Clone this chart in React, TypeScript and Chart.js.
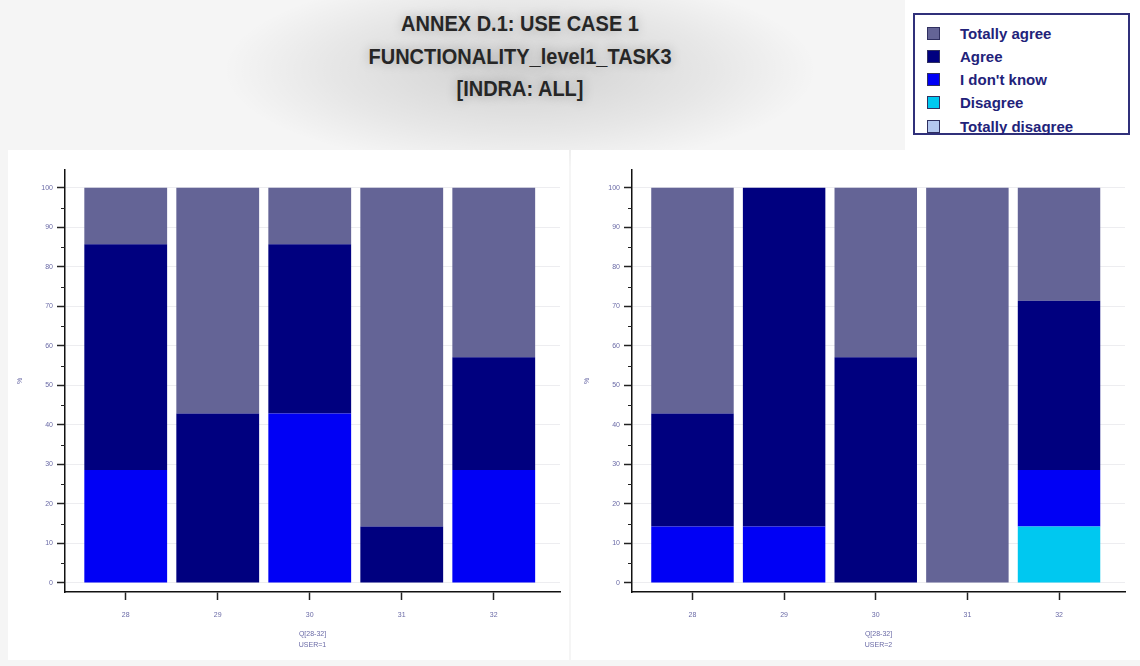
import React, { useEffect, useRef } from 'react';
import { Chart, registerables } from 'chart.js';

Chart.register(...registerables);

const FONT = '"Liberation Sans", Arial, Helvetica, sans-serif';

// ---- data ----
const categories = ['28', '29', '30', '31', '32'];
const xPositions = [1, 2, 3, 4, 5];
const yTicks = [0, 10, 20, 30, 40, 50, 60, 70, 80, 90, 100];
const seriesNames = ['Totally agree', 'Agree', "I don't know", 'Disagree', 'Totally disagree'];
const seriesColors = ['#646496', '#00007f', '#0000f5', '#00c8f0', '#b4c8f0'];

// USER=1
const user1TotallyAgree = [14.29, 57.14, 14.29, 85.71, 42.86];
const user1Agree = [57.14, 42.86, 42.86, 14.29, 28.57];
const user1DontKnow = [28.57, 0, 42.86, 0, 28.57];
const user1Disagree = [0, 0, 0, 0, 0];
const user1TotallyDisagree = [0, 0, 0, 0, 0];

// USER=2
const user2TotallyAgree = [57.14, 0, 42.86, 100, 28.57];
const user2Agree = [28.57, 85.71, 57.14, 0, 42.86];
const user2DontKnow = [14.29, 14.29, 0, 0, 14.29];
const user2Disagree = [0, 0, 0, 0, 14.29];
const user2TotallyDisagree = [0, 0, 0, 0, 0];

const titleLines = ['ANNEX D.1: USE CASE 1', 'FUNCTIONALITY_level1_TASK3', '[INDRA: ALL]'];
const xTitleFirst = 'Q[28-32]';

const TICK_COLOR = '#6a6aa6';

const minorTicks = {
  id: 'minorTicks',
  afterDraw(chart: any) {
    const y = chart.scales.y;
    const ctx = chart.ctx;
    ctx.save();
    ctx.strokeStyle = '#222';
    ctx.lineWidth = 1;
    for (let v = 5; v < 100; v += 10) {
      const py = Math.round(y.getPixelForValue(v)) + 0.5;
      ctx.beginPath();
      ctx.moveTo(y.right - 4, py);
      ctx.lineTo(y.right, py);
      ctx.stroke();
    }
    ctx.restore();
  },
};

function Panel(props: {
  values: number[][];
  userLabel: string;
  left: number;
  width: number;
  padRight: number;
}) {
  const ref = useRef<HTMLCanvasElement>(null);
  useEffect(() => {
    const { values, userLabel, padRight } = props;
    // datasets from bottom to top
    const order = [4, 3, 2, 1, 0];
    const chart = new Chart(ref.current as HTMLCanvasElement, {
      type: 'bar',
      data: {
        datasets: order.map((si) => ({
          label: seriesNames[si],
          data: values[si].map((v, j) => ({ x: xPositions[j], y: v })),
          backgroundColor: seriesColors[si],
          borderWidth: 0,
          barPercentage: 0.9,
          categoryPercentage: 1,
        })),
      },
      options: {
        responsive: false,
        animation: false,
        layout: { padding: { top: 20, left: 0, right: padRight, bottom: 0 } },
        plugins: { legend: { display: false }, tooltip: { enabled: false } },
        scales: {
          x: {
            type: 'linear',
            min: 0.34,
            max: 5.72,
            offset: false,
            stacked: true,
            afterBuildTicks: (s: any) => {
              s.ticks = xPositions.map((v) => ({ value: v }));
            },
            afterFit: (s: any) => {
              s.height = 74;
            },
            grid: { offset: false, drawOnChartArea: false, tickLength: 8, tickColor: '#222', tickWidth: 1.5 },
            border: { color: '#111', width: 1.5 },
            ticks: {
              autoSkip: false,
              maxRotation: 0,
              padding: 11,
              color: TICK_COLOR,
              font: { family: FONT, size: 7 },
              callback: (v: any) => {
                const i = xPositions.indexOf(Number(v));
                return i >= 0 ? categories[i] : '';
              },
            },
            title: {
              display: true,
              text: [xTitleFirst, userLabel],
              color: TICK_COLOR,
              font: { family: FONT, size: 7, lineHeight: 1.55 },
              padding: { top: 0, bottom: 16 },
            },
          },
          y: {
            min: -2.28,
            max: 104.5,
            stacked: true,
            afterBuildTicks: (s: any) => {
              s.ticks = yTicks.map((v) => ({ value: v }));
            },
            afterFit: (s: any) => {
              s.width = 65;
            },
            grid: {
              drawOnChartArea: true,
              color: 'rgba(190,190,200,0.28)',
              lineWidth: 1,
              tickLength: 8,
              tickColor: '#222',
              tickWidth: 1.5,
            },
            border: { color: '#111', width: 1.5 },
            ticks: {
              padding: 4,
              color: TICK_COLOR,
              font: { family: FONT, size: 7 },
            },
            title: {
              display: true,
              text: '%',
              color: TICK_COLOR,
              font: { family: FONT, size: 7 },
              padding: { top: 16, bottom: 0 },
            },
          },
        },
      },
      plugins: [minorTicks],
    } as any);
    return () => chart.destroy();
  }, []);
  return (
    <canvas
      ref={ref}
      width={props.width}
      height={516}
      style={{ position: 'absolute', left: props.left, top: 150, width: props.width, height: 516 }}
    />
  );
}

export default function App() {
  const user1 = [user1TotallyAgree, user1Agree, user1DontKnow, user1Disagree, user1TotallyDisagree];
  const user2 = [user2TotallyAgree, user2Agree, user2DontKnow, user2Disagree, user2TotallyDisagree];
  return (
    <div
      style={{
        position: 'absolute',
        left: 0,
        top: 0,
        width: 1140,
        height: 666,
        overflow: 'hidden',
        background: '#f5f5f5',
        fontFamily: FONT,
      }}
    >
      {/* title glow */}
      <div
        style={{
          position: 'absolute',
          left: 220,
          top: -30,
          width: 600,
          height: 200,
          background: 'radial-gradient(ellipse at center, rgba(0,0,0,0.15) 0%, rgba(0,0,0,0.06) 45%, rgba(0,0,0,0) 70%)',
        }}
      />
      {/* panels */}
      <div style={{ position: 'absolute', left: 8, top: 150, width: 561, height: 510, background: '#fff' }} />
      <div style={{ position: 'absolute', left: 571, top: 150, width: 569, height: 510, background: '#fff' }} />
      {/* title */}
      <div
        style={{
          position: 'absolute',
          left: 220,
          top: 7,
          width: 600,
          textAlign: 'center',
          fontWeight: 'bold',
          fontSize: 20,
          lineHeight: '32.5px',
          color: '#262626',
          textShadow: '0 0 10px rgba(0,0,0,0.25)',
        }}
      >
        {titleLines.map((t) => (
          <div key={t} style={{ transform: 'scaleY(1.1)' }}>
            {t}
          </div>
        ))}
      </div>
      <Panel values={user1} userLabel="USER=1" left={0} width={570} padRight={10} />
      <Panel values={user2} userLabel="USER=2" left={567} width={573} padRight={15} />
      {/* legend */}
      <div style={{ position: 'absolute', left: 905, top: 0, width: 235, height: 150, background: '#fff' }} />
      <div
        style={{
          position: 'absolute',
          left: 913,
          top: 13,
          width: 213,
          height: 118,
          border: '2px solid #30307a',
          background: '#fff',
        }}
      >
        {seriesNames.map((n, i) => (
          <div
            key={n}
            style={{
              position: 'absolute',
              left: 12,
              top: 8 + i * 23.3,
              height: 20,
              display: 'flex',
              alignItems: 'center',
              whiteSpace: 'nowrap',
            }}
          >
            <span
              style={{
                display: 'inline-block',
                width: 11,
                height: 11,
                background: seriesColors[i],
                border: '1px solid #303060',
                marginRight: 20,
              }}
            />
            <span style={{ fontWeight: 'bold', fontSize: 15, color: '#22227a' }}>{n}</span>
          </div>
        ))}
      </div>
    </div>
  );
}
